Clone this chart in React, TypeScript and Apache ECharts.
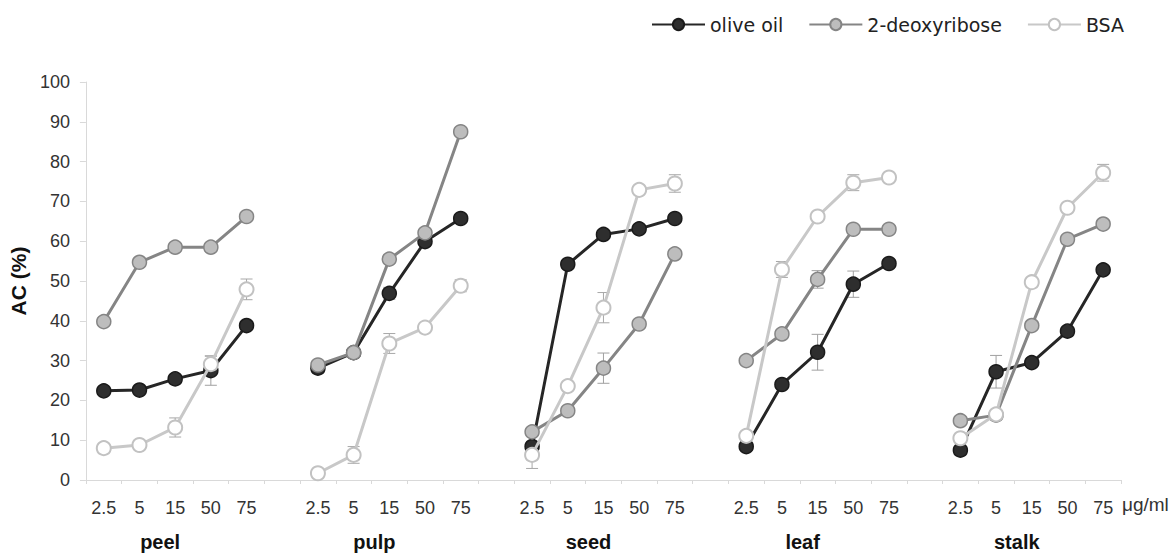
import React, { useEffect, useRef } from "react";
import * as echarts from "echarts";

const groups = ["peel", "pulp", "seed", "leaf", "stalk"];
const concentrations = ["2.5", "5", "15", "50", "75"];
const yTicks = { min: 0, max: 100, interval: 10 };

// values per series, group by group (peel, pulp, seed, leaf, stalk)
const oliveOil = [22.4, 22.6, 25.4, 27.5, 38.8, 28.1, 32.0, 46.9, 59.9, 65.7, 8.4, 54.2, 61.7, 63.1, 65.7, 8.4, 24.0, 32.1, 49.2, 54.4, 7.5, 27.2, 29.5, 37.4, 52.8];
const deoxyribose = [39.8, 54.7, 58.5, 58.5, 66.2, 28.9, 32.0, 55.5, 62.1, 87.5, 12.1, 17.4, 28.1, 39.2, 56.8, 30.0, 36.7, 50.4, 63.0, 63.0, 14.9, 16.3, 38.8, 60.5, 64.3];
const bsa = [8.0, 8.8, 13.2, 29.1, 47.9, 1.7, 6.3, 34.3, 38.3, 48.8, 6.3, 23.6, 43.3, 72.9, 74.5, 11.1, 52.9, 66.2, 74.7, 76.0, 10.5, 16.5, 49.7, 68.4, 77.2];

// error bar half-lengths
const oliveOilErr = [0.5, 0.5, 0.8, 3.7, 1.0, 0.5, 0.8, 1.5, 1.2, 1.0, 1.0, 1.0, 1.0, 1.0, 1.0, 0.5, 1.0, 4.5, 3.3, 1.0, 0.5, 4.1, 1.0, 1.0, 1.0];
const deoxyriboseErr = [1.0, 1.0, 1.0, 1.0, 1.0, 1.0, 1.0, 1.0, 1.0, 1.0, 1.0, 1.0, 3.8, 1.0, 1.0, 1.0, 1.0, 2.2, 1.0, 1.0, 1.0, 1.0, 1.0, 1.0, 1.0];
const bsaErr = [1.0, 1.0, 2.4, 2.0, 2.6, 0.5, 2.1, 2.5, 1.0, 1.5, 3.4, 1.0, 3.8, 1.0, 2.2, 1.0, 2.0, 1.0, 2.0, 1.0, 1.0, 1.0, 1.0, 1.0, 2.1];

const seriesNames = ["olive oil", "2-deoxyribose", "BSA"];

// build category slots: 5 concentrations per group, one blank slot between groups
const categories: string[] = [];
const groupLabels: string[] = [];
const slotIndex: number[] = [];
groups.forEach((g, gi) => {
  if (gi > 0) {
    categories.push("");
    groupLabels.push("");
  }
  concentrations.forEach((c, ci) => {
    slotIndex.push(categories.length);
    categories.push(c);
    groupLabels.push(ci === 2 ? g : "");
  });
});

function toSlots(vals: number[]) {
  const out: (number | null)[] = categories.map(() => null);
  vals.forEach((v, i) => {
    out[slotIndex[i]] = v;
  });
  return out;
}

function errData(vals: number[], errs: number[]) {
  return vals.map((v, i) => [slotIndex[i], v, errs[i]]);
}

const FONT = "'Liberation Sans', Arial, sans-serif";

export default function App() {
  const ref = useRef<HTMLDivElement>(null);
  useEffect(() => {
    if (!ref.current) return;
    const chart = echarts.init(ref.current, undefined, { renderer: "svg" });

    const errSeries = (vals: number[], errs: number[], color: string) => ({
      type: "custom",
      xAxisIndex: 0,
      yAxisIndex: 0,
      z: 1,
      silent: true,
      encode: { x: 0, y: 1 },
      data: errData(vals, errs),
      renderItem: (params: any, api: any) => {
        const x = api.value(0);
        const y = api.value(1);
        const e = api.value(2);
        const top = api.coord([x, y + e]);
        const bot = api.coord([x, y - e]);
        const half = 6;
        const style = { stroke: color, lineWidth: 1 };
        return {
          type: "group",
          children: [
            { type: "line", shape: { x1: top[0], y1: top[1], x2: bot[0], y2: bot[1] }, style },
            { type: "line", shape: { x1: top[0] - half, y1: top[1], x2: top[0] + half, y2: top[1] }, style },
            { type: "line", shape: { x1: bot[0] - half, y1: bot[1], x2: bot[0] + half, y2: bot[1] }, style },
          ],
        };
      },
    });

    const option: any = {
      animation: false,
      backgroundColor: "#ffffff",
      textStyle: { fontFamily: FONT },
      grid: { left: 83, right: 54, top: 82, bottom: 76, containLabel: false },
      legend: {
        data: seriesNames,
        left: 646,
        top: 10,
        itemWidth: 53,
        itemHeight: 14,
        itemGap: 25,
        textStyle: { fontFamily: "'DejaVu Sans', sans-serif", fontSize: 19, color: "#222" },
      },
      xAxis: [
        {
          type: "category",
          data: categories,
          boundaryGap: true,
          name: "\u03bcg/ml",
          nameLocation: "end",
          nameGap: 1,
          nameTextStyle: { fontFamily: FONT, fontSize: 19, color: "#333", verticalAlign: "top", padding: [15, 0, 0, 0] },
          axisLine: { show: true, lineStyle: { color: "#d9d9d9", width: 1 } },
          axisTick: { show: true, interval: 0, length: 4, lineStyle: { color: "#d9d9d9" } },
          axisLabel: { interval: 0, fontSize: 18, color: "#333", margin: 19, fontFamily: FONT },
          splitLine: { show: false },
        },
        {
          type: "category",
          data: groupLabels,
          boundaryGap: true,
          position: "bottom",
          axisLine: { show: false },
          axisTick: { show: false },
          axisLabel: {
            interval: 0,
            fontSize: 20,
            fontWeight: "bold",
            color: "#111",
            margin: 52,
            fontFamily: FONT,
            padding: [0, 30, 0, 0],
          },
          splitLine: { show: false },
        },
      ],
      yAxis: {
        type: "value",
        min: yTicks.min,
        max: yTicks.max,
        interval: yTicks.interval,
        name: "AC (%)",
        nameLocation: "middle",
        nameGap: 53,
        nameRotate: 90,
        nameTextStyle: { fontFamily: FONT, fontSize: 21, fontWeight: "bold", color: "#111" },
        axisLine: { show: true, lineStyle: { color: "#d9d9d9", width: 1 } },
        axisTick: { show: true, length: 6, lineStyle: { color: "#d9d9d9" } },
        axisLabel: { fontSize: 18, color: "#333", margin: 16, fontFamily: FONT },
        splitLine: { show: false },
      },
      series: [
        errSeries(oliveOil, oliveOilErr, "#a0a0a0"),
        errSeries(deoxyribose, deoxyriboseErr, "#a0a0a0"),
        errSeries(bsa, bsaErr, "#a8a8a8"),
        {
          name: seriesNames[0],
          type: "line",
          data: toSlots(oliveOil),
          connectNulls: false,
          symbol: "circle",
          symbolSize: 14,
          z: 3,
          lineStyle: { color: "#262626", width: 3 },
          itemStyle: { color: "#2e2e2e", borderColor: "#1a1a1a", borderWidth: 1.5 },
        },
        {
          name: seriesNames[1],
          type: "line",
          data: toSlots(deoxyribose),
          connectNulls: false,
          symbol: "circle",
          symbolSize: 14,
          z: 4,
          lineStyle: { color: "#858585", width: 3 },
          itemStyle: { color: "#bdbdbd", borderColor: "#858585", borderWidth: 1.5 },
        },
        {
          name: seriesNames[2],
          type: "line",
          data: toSlots(bsa),
          connectNulls: false,
          symbol: "circle",
          symbolSize: 14,
          z: 5,
          lineStyle: { color: "#c8c8c8", width: 3 },
          itemStyle: { color: "#ffffff", borderColor: "#c2c2c2", borderWidth: 2 },
        },
      ],
    };

    chart.setOption(option);
    return () => {
      chart.dispose();
    };
  }, []);

  return (
    <div
      ref={ref}
      style={{ position: "fixed", left: 0, top: 0, width: 1175, height: 556, background: "#fff" }}
    />
  );
}
